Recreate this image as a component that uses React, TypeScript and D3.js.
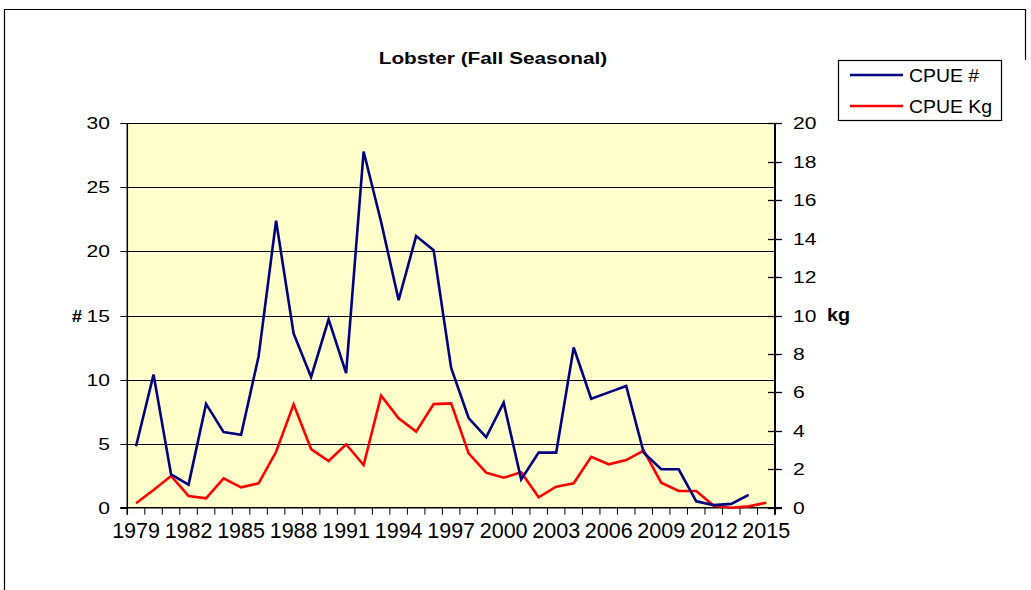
import React, { useEffect, useRef } from 'react';
import * as d3 from 'd3';

const years = ['1979', '1980', '1981', '1982', '1983', '1984', '1985', '1986', '1987', '1988',
  '1989', '1990', '1991', '1992', '1993', '1994', '1995', '1996', '1997', '1998',
  '1999', '2000', '2001', '2002', '2003', '2004', '2005', '2006', '2007', '2008',
  '2009', '2010', '2011', '2012', '2013', '2014', '2015'];

// CPUE # (left axis)
const cpueNum: (number | null)[] = [4.8, 10.4, 2.6, 1.8, 8.1, 5.9, 5.7, 11.8, 22.4, 13.6,
  10.2, 14.7, 10.5, 27.8, 22.3, 16.2, 21.2, 20.1, 10.9, 7.0,
  5.5, 8.2, 2.2, 4.3, 4.3, 12.5, 8.5, 9.0, 9.5, 4.3,
  3.0, 3.0, 0.5, 0.2, 0.3, 1.0, null];

// CPUE Kg (right axis)
const cpueKg: (number | null)[] = [0.23, 0.92, 1.65, 0.61, 0.49, 1.53, 1.06, 1.27, 2.91, 5.38,
  3.05, 2.43, 3.3, 2.22, 5.83, 4.65, 3.96, 5.39, 5.43, 2.83,
  1.82, 1.56, 1.84, 0.54, 1.09, 1.27, 2.65, 2.26, 2.48, 2.97,
  1.3, 0.87, 0.87, 0.1, 0.0, 0.07, 0.26];

const leftTicks = [0, 5, 10, 15, 20, 25, 30];
const rightTicks = [0, 2, 4, 6, 8, 10, 12, 14, 16, 18, 20];
const yearLabels = ['1979', '1982', '1985', '1988', '1991', '1994', '1997', '2000', '2003', '2006', '2009', '2012', '2015'];

const seriesNames = ['CPUE #', 'CPUE Kg'];
const seriesColors = ['#000080', '#ff0000'];

const W = 1031, H = 590;
const FONT = 'Liberation Sans, Arial, sans-serif';

export default function App() {
  const ref = useRef<SVGSVGElement>(null);

  useEffect(() => {
    const svg = d3.select(ref.current);
    svg.selectAll('*').remove();

    const left = 127.3, right = 775, top = 123.3, bottom = 507.7;

    const x = d3.scaleBand<string>().domain(years).range([left, right]);
    const yL = d3.scaleLinear().domain([0, 30]).range([bottom, top]);
    const yR = d3.scaleLinear().domain([0, 20]).range([bottom, top]);

    // stretched text helper
    const txt = (g: any, s: string, tx: number, ty: number, size: number, sx: number, anchor: string, bold = false) =>
      g.append('text')
        .attr('transform', `translate(${tx},${ty}) scale(${sx},1)`)
        .attr('text-anchor', anchor)
        .attr('font-family', FONT)
        .attr('font-size', size)
        .attr('font-weight', bold ? 'bold' : 'normal')
        .attr('fill', '#000')
        .text(s);

    // outer frame
    svg.append('path')
      .attr('d', `M4.5,${H} L4.5,9.5 L1025.5,9.5 L1025.5,60`)
      .attr('fill', 'none').attr('stroke', '#000').attr('stroke-width', 1.2);

    // title
    txt(svg, 'Lobster (Fall Seasonal)', 493, 64, 16.5, 1.26, 'middle', true);

    // plot area
    svg.append('rect')
      .attr('x', left).attr('y', top)
      .attr('width', right - left).attr('height', bottom - top)
      .attr('fill', '#ffffcc');

    // gridlines
    svg.append('g').selectAll('line')
      .data(leftTicks.slice(1))
      .join('line')
      .attr('x1', left).attr('x2', right)
      .attr('y1', d => Math.round(yL(d)) + 0.5).attr('y2', d => Math.round(yL(d)) + 0.5)
      .attr('stroke', '#000').attr('stroke-width', 1);

    // left axis
    const gl = svg.append('g');
    gl.append('line').attr('x1', left).attr('x2', left).attr('y1', top).attr('y2', bottom + 7)
      .attr('stroke', '#000').attr('stroke-width', 1.5);
    leftTicks.forEach(t => {
      const yy = Math.round(yL(t)) + 0.5;
      gl.append('line').attr('x1', left - 7).attr('x2', left).attr('y1', yy).attr('y2', yy)
        .attr('stroke', '#000').attr('stroke-width', 1);
      txt(gl, String(t), 110, yL(t) + 6, 17, 1.24, 'end');
    });
    txt(gl, '#', 77, yL(15) + 6, 17, 1.1, 'middle', true);

    // right axis
    const gr = svg.append('g');
    gr.append('line').attr('x1', right).attr('x2', right).attr('y1', top).attr('y2', bottom + 7)
      .attr('stroke', '#000').attr('stroke-width', 2);
    rightTicks.forEach(t => {
      const yy = Math.round(yR(t)) + 0.5;
      gr.append('line').attr('x1', right - 7).attr('x2', right + 7).attr('y1', yy).attr('y2', yy)
        .attr('stroke', '#000').attr('stroke-width', 1.3);
      txt(gr, String(t), 793, yR(t) + 6, 17, 1.24, 'start');
    });
    txt(gr, 'kg', 827, yR(10) + 5, 18, 1.1, 'start', true);

    // x axis
    const gx = svg.append('g');
    gx.append('line').attr('x1', left - 7).attr('x2', right + 7).attr('y1', bottom).attr('y2', bottom)
      .attr('stroke', '#000').attr('stroke-width', 1.5);
    years.concat(['end']).forEach((yr, i) => {
      const xx = yr === 'end' ? right : (x(yr) as number);
      gx.append('line').attr('x1', xx).attr('x2', xx).attr('y1', bottom).attr('y2', bottom + 7)
        .attr('stroke', '#000').attr('stroke-width', 1);
    });
    yearLabels.forEach(yr => {
      txt(gx, yr, (x(yr) as number) + x.bandwidth() / 2, 538, 21.5, 1.0, 'middle');
    });

    // series lines
    const cx = (i: number) => (x(years[i]) as number) + x.bandwidth() / 2;
    const lineNum = d3.line<number | null>()
      .defined(d => d !== null)
      .x((d, i) => cx(i))
      .y(d => yL(d as number));
    const lineKg = d3.line<number | null>()
      .defined(d => d !== null)
      .x((d, i) => cx(i))
      .y(d => yR(d as number));

    svg.append('path').datum(cpueKg).attr('d', lineKg)
      .attr('fill', 'none').attr('stroke', seriesColors[1]).attr('stroke-width', 2.6)
      .attr('stroke-linejoin', 'miter');
    svg.append('path').datum(cpueNum).attr('d', lineNum)
      .attr('fill', 'none').attr('stroke', seriesColors[0]).attr('stroke-width', 2.6)
      .attr('stroke-linejoin', 'miter');

    // legend
    const lg = svg.append('g');
    lg.append('rect').attr('x', 838.5).attr('y', 60.5).attr('width', 163).attr('height', 60)
      .attr('fill', '#fff').attr('stroke', '#000').attr('stroke-width', 1.2);
    seriesNames.forEach((name, i) => {
      const ly = 75 + i * 31;
      lg.append('line').attr('x1', 850).attr('x2', 903).attr('y1', ly).attr('y2', ly)
        .attr('stroke', seriesColors[i]).attr('stroke-width', 2.6);
      txt(lg, name, 909, ly + 7, 18, 1.08, 'start');
    });
  }, []);

  return (
    <svg ref={ref} width={W} height={H}
      style={{ position: 'absolute', left: 0, top: 0, background: '#fff' }} />
  );
}
